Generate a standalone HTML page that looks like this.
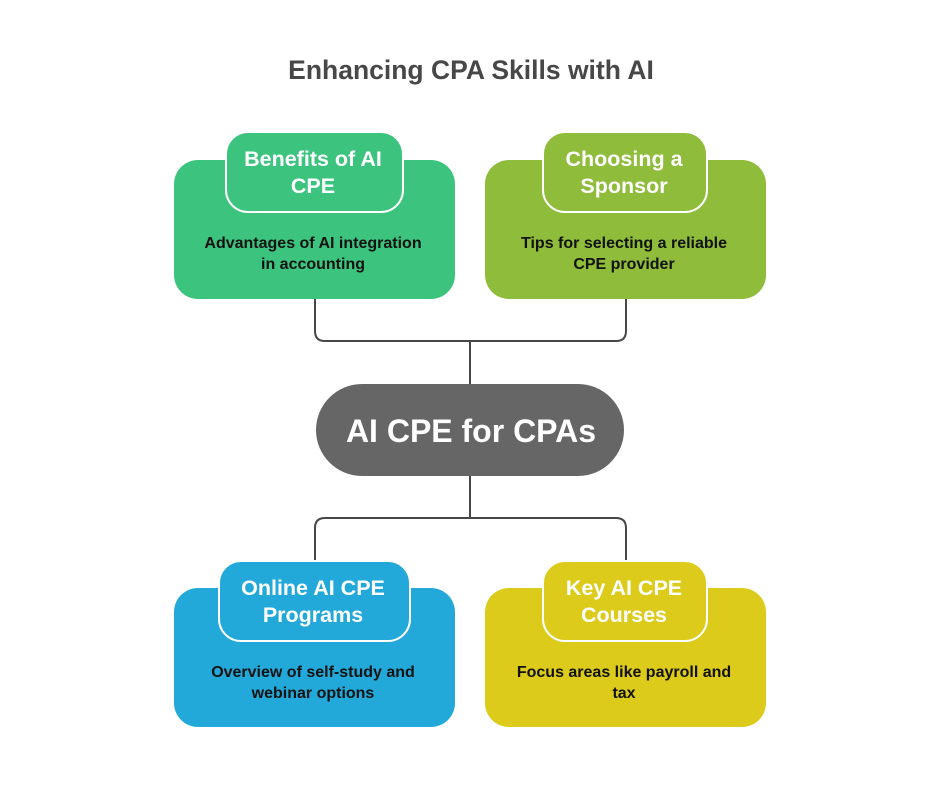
<!DOCTYPE html>
<html><head><meta charset="utf-8"><style>
html,body{margin:0;padding:0;background:#fff;}
svg{display:block;}
text{font-family:"Liberation Sans",sans-serif;font-weight:bold;text-anchor:middle;}
</style></head><body>
<svg width="940" height="788" viewBox="0 0 940 788" xmlns="http://www.w3.org/2000/svg">
<rect width="940" height="788" fill="#fff"/>
<text x="471" y="79" font-size="26.5" fill="#474747">Enhancing CPA Skills with AI</text>
<g fill="none" stroke="#474747" stroke-width="2">
<path d="M315 299 V331 Q315 341 325 341 H616 Q626 341 626 331 V299"/>
<path d="M470 341 V384"/>
<path d="M470 476 V518"/>
<path d="M315 588 V528 Q315 518 325 518 H616 Q626 518 626 528 V588"/>
</g>
<rect x="316" y="384" width="308" height="92" rx="46" fill="#666666"/>
<text x="471" y="442" font-size="32" fill="#fff">AI CPE for CPAs</text>

<rect x="174" y="160" width="281" height="139" rx="24" fill="#3cc47f"/>
<rect x="226" y="132" width="177" height="80" rx="22" fill="#3cc47f" stroke="#fff" stroke-width="2"/>
<text x="313" y="166" font-size="21.5" fill="#fff">Benefits of AI</text>
<text x="313" y="193" font-size="21.5" fill="#fff">CPE</text>
<text x="313" y="248" font-size="16" fill="#111">Advantages of AI integration</text>
<text x="313" y="269" font-size="16" fill="#111">in accounting</text>

<rect x="485" y="160" width="281" height="139" rx="24" fill="#8fbc3a"/>
<rect x="543" y="132" width="164" height="80" rx="22" fill="#8fbc3a" stroke="#fff" stroke-width="2"/>
<text x="624" y="166" font-size="21.5" fill="#fff">Choosing a</text>
<text x="624" y="193" font-size="21.5" fill="#fff">Sponsor</text>
<text x="624" y="248" font-size="16" fill="#111">Tips for selecting a reliable</text>
<text x="624" y="269" font-size="16" fill="#111">CPE provider</text>

<rect x="174" y="588" width="281" height="139" rx="24" fill="#22a9d9"/>
<rect x="219" y="561" width="191" height="80" rx="22" fill="#22a9d9" stroke="#fff" stroke-width="2"/>
<text x="313" y="595" font-size="21.5" fill="#fff">Online AI CPE</text>
<text x="313" y="622" font-size="21.5" fill="#fff">Programs</text>
<text x="313" y="677" font-size="16" fill="#111">Overview of self-study and</text>
<text x="313" y="698" font-size="16" fill="#111">webinar options</text>

<rect x="485" y="588" width="281" height="139" rx="24" fill="#dccb1a"/>
<rect x="543" y="561" width="164" height="80" rx="22" fill="#dccb1a" stroke="#fff" stroke-width="2"/>
<text x="624" y="595" font-size="21.5" fill="#fff">Key AI CPE</text>
<text x="624" y="622" font-size="21.5" fill="#fff">Courses</text>
<text x="624" y="677" font-size="16" fill="#111">Focus areas like payroll and</text>
<text x="624" y="698" font-size="16" fill="#111">tax</text>
</svg>
</body></html>
